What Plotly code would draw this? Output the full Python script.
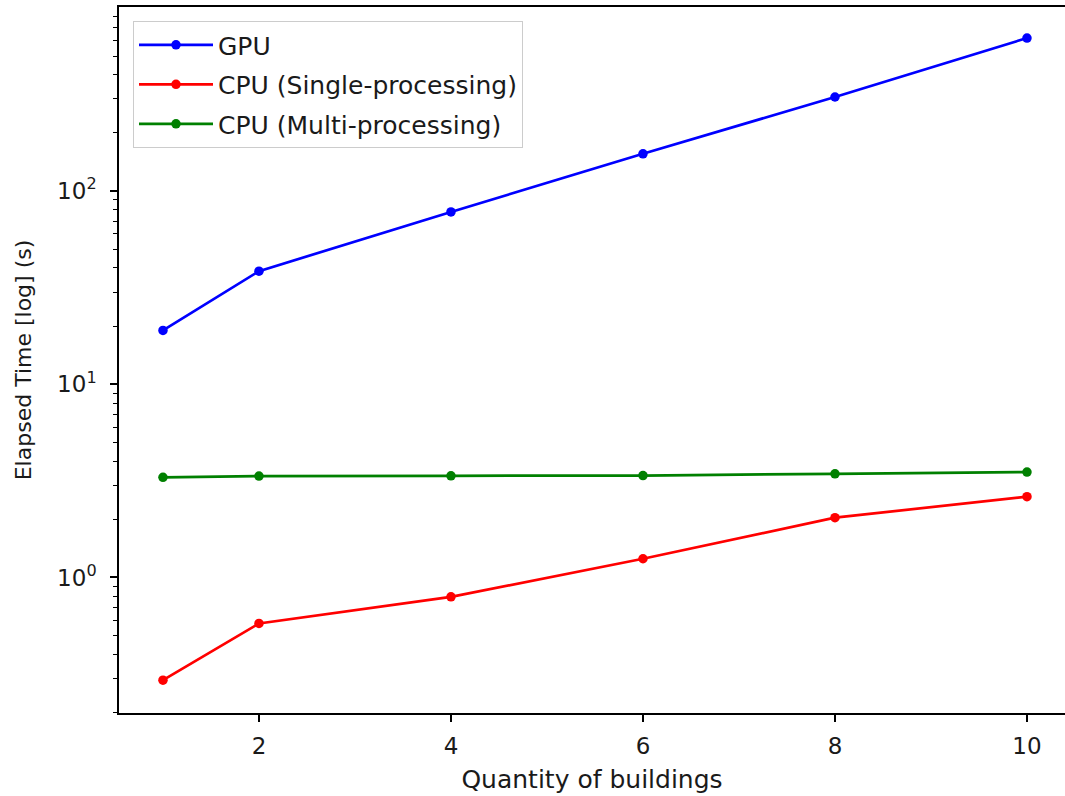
import plotly.graph_objects as go

# Number of buildings processed in each benchmark run
buildings = [1, 2, 4, 6, 8, 10]

# Elapsed time in seconds for each implementation
gpu_time = [19.0, 38.5, 78.0, 156.0, 307.0, 620.0]
cpu_single_time = [0.294, 0.578, 0.794, 1.25, 2.04, 2.62]
cpu_multi_time = [3.30, 3.35, 3.36, 3.37, 3.44, 3.51]

series = [
    ("GPU", gpu_time, "#0000ff"),
    ("CPU (Single-processing)", cpu_single_time, "#ff0000"),
    ("CPU (Multi-processing)", cpu_multi_time, "#008000"),
]

FONT = "DejaVu Sans"
TEXT = "#1a1a1a"

fig = go.Figure()
for name, values, color in series:
    fig.add_trace(go.Scatter(
        x=buildings, y=values, name=name, mode="lines+markers",
        legendgroup=name,
        line=dict(color=color, width=2.7),
        marker=dict(color=color, size=9.5),
    ))

# Minor ticks on the log axis (2..9 within each decade)
minor_vals = [m * 10 ** e for e in (-1, 0, 1, 2) for m in range(2, 10)]

fig.update_layout(
    width=1065, height=796,
    margin=dict(l=119, r=0, t=7, b=83),
    paper_bgcolor="white", plot_bgcolor="white",
    font=dict(family=FONT, size=23, color=TEXT),
    showlegend=True,
    legend=dict(
        x=0.0148, y=0.980, xanchor="left", yanchor="top",
        bgcolor="rgba(255,255,255,0.8)", bordercolor="#cccccc", borderwidth=1,
        font=dict(family=FONT, size=25, color=TEXT),
        tracegroupgap=4, itemwidth=74,
    ),
    xaxis=dict(
        range=[0.542, 10.396],
        tickvals=[2, 4, 6, 8, 10],
        ticks="outside", ticklen=7, tickwidth=1.5, tickcolor="black",
        ticklabelstandoff=5,
        showline=True, linecolor="black", linewidth=1.5, mirror=True,
        showgrid=False, zeroline=False,
        title=dict(text="Quantity of buildings", standoff=12,
                   font=dict(family=FONT, size=25, color=TEXT)),
    ),
    yaxis=dict(
        type="log",
        range=[-0.7016, 2.953],
        tickvals=[1, 10, 100],
        ticktext=["10<sup>0</sup>", "10<sup>1</sup>", "10<sup>2</sup>"],
        ticks="outside", ticklen=7, tickwidth=1.5, tickcolor="black",
        ticklabelstandoff=9,
        minor=dict(tickvals=minor_vals, ticks="outside", ticklen=4,
                   tickwidth=1.2, tickcolor="black", showgrid=False),
        showline=True, linecolor="black", linewidth=1.5, mirror=False,
        showgrid=False, zeroline=False,
        title=dict(text="Elapsed Time [log] (s)", standoff=19,
                   font=dict(family=FONT, size=22, color=TEXT)),
    ),
)

fig.write_html("out.html")
